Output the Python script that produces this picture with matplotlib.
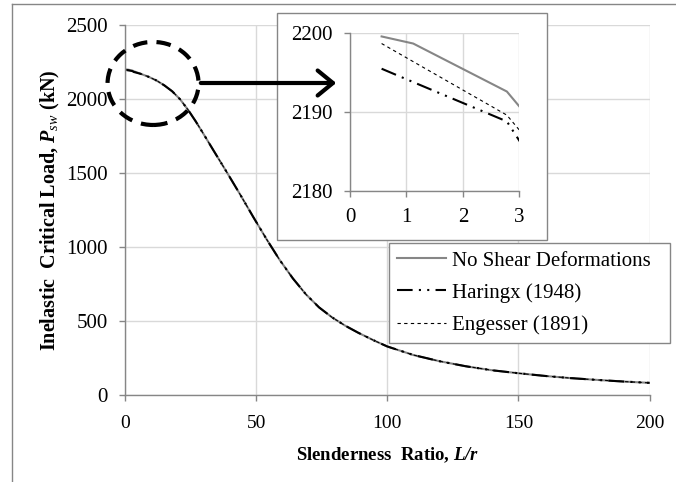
import numpy as np
import matplotlib
matplotlib.use("Agg")
import matplotlib.pyplot as plt
from matplotlib.patches import Ellipse, Rectangle, FancyArrowPatch
from matplotlib.lines import Line2D

plt.rcParams["font.family"] = ["Liberation Serif", "DejaVu Serif"]
plt.rcParams["mathtext.fontset"] = "custom"
plt.rcParams["mathtext.rm"] = "Liberation Serif"
plt.rcParams["mathtext.it"] = "Liberation Serif:italic"
plt.rcParams["mathtext.bf"] = "Liberation Serif:bold"
plt.rcParams["mathtext.bfit"] = "Liberation Serif:italic:bold"

# slenderness ratio L/r and critical loads (kN)
slenderness = [0.56, 1.12, 2.78, 3.34, 6, 9, 12, 15, 18, 21, 24, 27, 30, 34, 39,
               44, 49, 54, 59, 64, 69, 74, 79, 84, 89, 95, 100, 110, 120, 130,
               140, 150, 160, 170, 180, 190, 200]
tail = [2170, 2150, 2125, 2092, 2052, 1998, 1928, 1848, 1762, 1645, 1500,
        1352, 1200, 1052, 912, 788, 680, 592, 524, 468, 420, 368, 328, 270,
        228, 194, 167, 147, 129, 114, 102, 91, 82]
no_shear = [2199.6, 2198.7, 2192.6, 2187.8] + tail
haringx = [2195.5, 2193.8, 2188.8, 2182.6] + tail
engesser = [2198.7, 2196.4, 2189.6, 2184.8] + tail

labels = ["No Shear Deformations", "Haringx (1948)", "Engesser (1891)"]

grid_c = "#d9d9d9"
spine_c = "#868686"
tick_fs = 15
leg_fs = 15

fig = plt.figure(figsize=(6.76, 4.82), dpi=100)

# outer chart frame
fig.add_artist(Line2D([12 / 676, 12 / 676], [0, 1 - 4 / 482], transform=fig.transFigure,
                      color=spine_c, lw=1))
fig.add_artist(Line2D([12 / 676, 1], [1 - 4 / 482, 1 - 4 / 482], transform=fig.transFigure,
                      color=spine_c, lw=1))


def style_axes(ax):
    for s in ["top", "right"]:
        ax.spines[s].set_visible(False)
    for s in ["left", "bottom"]:
        ax.spines[s].set_color(spine_c)
        ax.spines[s].set_linewidth(1)
    ax.tick_params(axis="both", colors=spine_c, labelcolor="black", labelsize=tick_fs,
                   length=4.3, width=1, direction="out", pad=8)
    ax.grid(True, color=grid_c, lw=1)
    ax.set_axisbelow(True)


def draw_series(ax):
    l1, = ax.plot(slenderness, no_shear, color=spine_c, lw=1.5)
    l2, = ax.plot(slenderness, haringx, color="black", lw=1.5,
                  linestyle=(0, (7.5, 3, 1, 3, 1, 3)))
    l3, = ax.plot(slenderness, engesser, color="black", lw=0.8,
                  linestyle=(0, (3, 3)))
    return [l1, l2, l3]


# main chart
ax = fig.add_axes([125 / 676, 1 - 395 / 482, 524.5 / 676, 370 / 482])
style_axes(ax)
handles = draw_series(ax)
ax.set_xlim(0, 200)
ax.set_ylim(0, 2500)
ax.set_xticks([0, 50, 100, 150, 200])
ax.set_yticks([0, 500, 1000, 1500, 2000, 2500])
ax.tick_params(axis="x", labelsize=14, pad=10)
ax.set_xlabel(r"Slenderness  Ratio, $\mathbfit{L/r}$", fontsize=13.5, fontweight="bold",
              labelpad=10)
ax.set_ylabel(r"Inelastic  Critical Load, $\mathbfit{P}_{\mathit{sw}}$ (kN)", fontsize=14.5,
              fontweight="bold", labelpad=3)

# dashed ring around the zoomed region
ring = Ellipse((10.7, 2105), 34.7, 561, fill=False, edgecolor="black", lw=3,
               linestyle=(0, (3.5, 2.2)), clip_on=False, zorder=4)
ax.add_patch(ring)

# inset frame
fig.add_artist(Rectangle((277 / 676, 1 - 240 / 482), 269.5 / 676, 227 / 482,
                         transform=fig.transFigure, facecolor="white",
                         edgecolor=spine_c, lw=1, zorder=1))

# zoomed inset
axi = fig.add_axes([350 / 676, 1 - 190.7 / 482, 169.3 / 676, 157.4 / 482], zorder=2)
style_axes(axi)
draw_series(axi)
axi.set_xlim(0, 3)
axi.set_ylim(2180, 2200)
axi.set_xticks([0, 1, 2, 3])
axi.set_yticks([2180, 2190, 2200])

# arrow from ring to inset
fig.add_artist(FancyArrowPatch((198 / 676, 1 - 83 / 482), (339 / 676, 1 - 83 / 482),
                               transform=fig.transFigure,
                               arrowstyle="->, head_length=0.55, head_width=0.45",
                               mutation_scale=20, color="black", lw=3, zorder=5))

leg_top = 1 - 243 / 482
leg = fig.legend(handles, labels, loc="upper left",
                 bbox_to_anchor=(389 / 676, leg_top - 0.3, 281 / 676, 0.3),
                 mode="expand", fontsize=leg_fs, frameon=True, fancybox=False,
                 edgecolor=spine_c, framealpha=1, handlelength=2.35,
                 labelspacing=0.6, borderpad=0.38, handletextpad=0.3,
                 borderaxespad=0)
leg.get_frame().set_linewidth(1)
leg.set_zorder(6)

fig.savefig("out.png", dpi=100)
